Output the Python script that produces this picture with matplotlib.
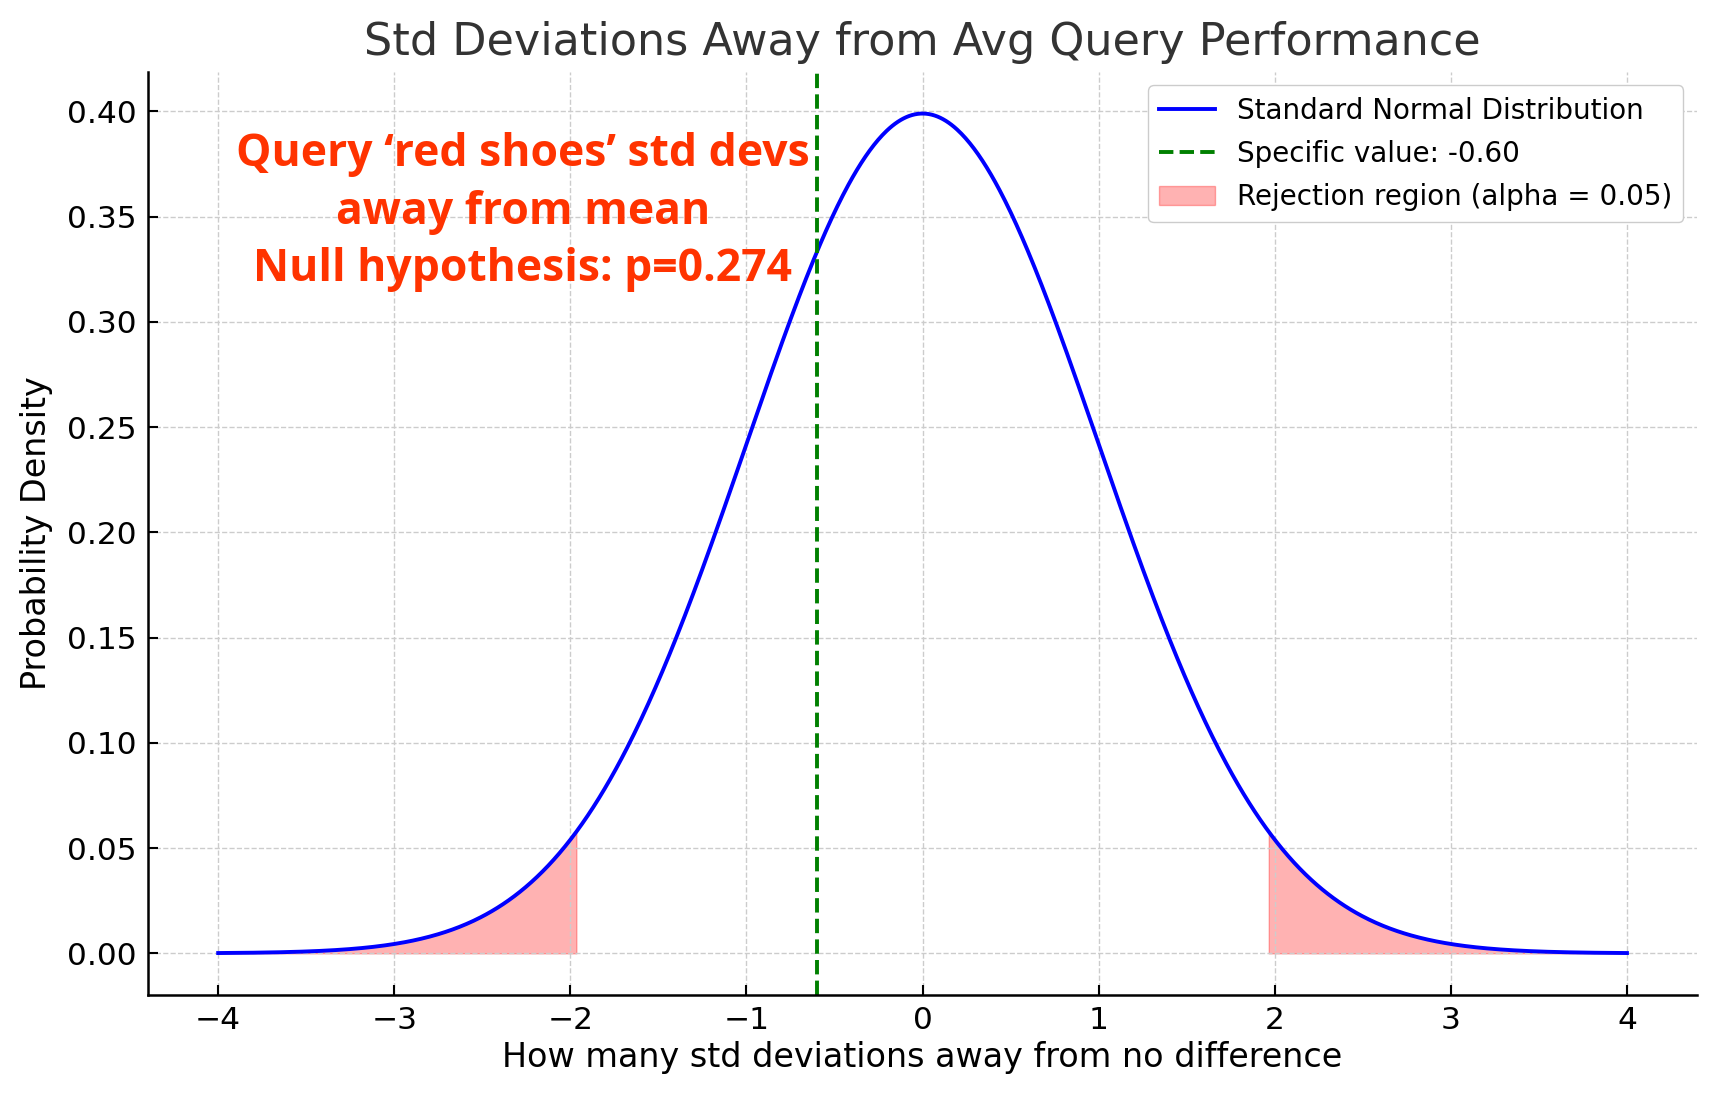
import matplotlib as mpl
mpl.use('Agg')
import matplotlib.pyplot as plt
import numpy as np

# distribution parameters shown in the chart
mean = 0.0
std = 1.0
x_range = [-4.0, 4.0]
specific_value = -0.60
alpha = 0.05
z_crit = 1.96
note_lines = ["Query \u2018red shoes\u2019 std devs", "away from mean", "Null hypothesis: p=0.274"]


def pdf(x):
    return np.exp(-0.5 * ((x - mean) / std) ** 2) / (std * np.sqrt(2 * np.pi))


x = np.linspace(x_range[0], x_range[1], 1000)
y = pdf(x)

fig, ax = plt.subplots(figsize=(17.18, 11.01), dpi=100)
ax.plot(x, y, color='blue', lw=2.8, label='Standard Normal Distribution')
ax.axvline(specific_value, color='green', ls='--', lw=2.8, label='Specific value: %.2f' % specific_value)
ax.fill_between(x, y, where=(x <= -z_crit), color='red', alpha=0.3,
                label='Rejection region (alpha = %.2f)' % alpha)
ax.fill_between(x, y, where=(x >= z_crit), color='red', alpha=0.3)

ax.set_title('Std Deviations Away from Avg Query Performance', fontsize=32, color='#333333', pad=12)
ax.set_xlabel('How many std deviations away from no difference', fontsize=24)
ax.set_ylabel('Probability Density', fontsize=24, labelpad=10)
ax.tick_params(direction='in', labelsize=22.5, length=7, width=1.5, pad=8)
ax.grid(True, ls='--', color='#cccccc', lw=1)
for s in ['top', 'right']:
    ax.spines[s].set_visible(False)
for s in ['left', 'bottom']:
    ax.spines[s].set_linewidth(1.8)

ax.legend(loc='upper right', fontsize=20, framealpha=1, edgecolor='#cccccc', labelspacing=0.55)
ax.text(-2.27, 0.352, '\n'.join(note_lines), ha='center', va='center', fontsize=32,
        color='#ff3300', fontweight='bold', family='Open Sans', linespacing=1.37)

plt.subplots_adjust(left=0.086, right=0.988, top=0.935, bottom=0.096)
plt.savefig('out.png')
